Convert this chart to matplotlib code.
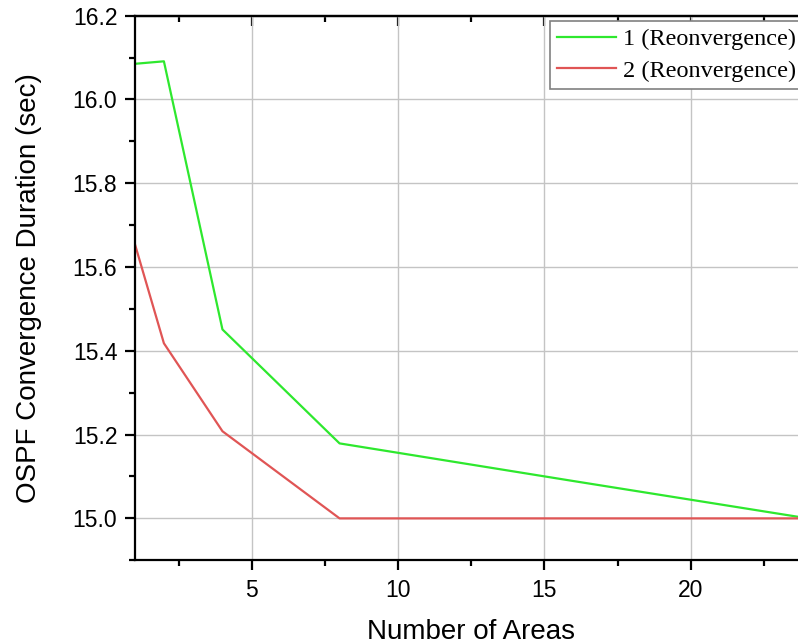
# OSPF convergence duration vs number of areas

import numpy as np
import matplotlib.pyplot as plt
from matplotlib.ticker import MultipleLocator

# data
areas = [1, 2, 4, 8, 16, 24]
reconv_1 = [16.085, 16.091, 15.451, 15.179, 15.089, 15.0]
reconv_2 = [15.657, 15.418, 15.208, 15.0, 15.0, 15.0]
labels = ["1 (Reonvergence)", "2 (Reonvergence)"]

plt.rcParams['font.family'] = ['Liberation Sans', 'DejaVu Sans']

fig = plt.figure(figsize=(7.98, 6.44), dpi=100)
# right spine sits just past the figure edge, as in the cropped original
ax = fig.add_axes([0.1687, 0.13, 0.8438, 0.8457])

ax.plot(areas, reconv_1, color='#2ee82e', lw=1.6, label=labels[0])
ax.plot(areas, reconv_2, color='#e05555', lw=1.6, label=labels[1])

ax.set_xlim(1, 24)
ax.set_ylim(14.9, 16.2)
ax.xaxis.set_major_locator(MultipleLocator(5))
ax.xaxis.set_minor_locator(MultipleLocator(2.5))
ax.yaxis.set_major_locator(MultipleLocator(0.2))
ax.yaxis.set_minor_locator(MultipleLocator(0.1))
ax.yaxis.set_major_formatter(plt.FormatStrFormatter('%.1f'))

ax.grid(True, which='major', color='#c4c4c4', lw=1.0)
ax.set_axisbelow(True)
for s in ax.spines.values():
    s.set_linewidth(1.6)

ax.tick_params(which='both', direction='out', width=1.6, labelsize=16.5, top=False, right=False)
ax.tick_params(which='major', length=7.5)
ax.tick_params(which='minor', length=4.5)
ax.tick_params(axis='x', pad=6)
ax.tick_params(axis='y', pad=5)

# inward ticks along the top spine
top = ax.secondary_xaxis('top')
top.xaxis.set_major_locator(MultipleLocator(5))
top.xaxis.set_minor_locator(MultipleLocator(2.5))
top.tick_params(which='both', direction='in', width=1.6, labeltop=False)
top.tick_params(which='major', length=7.5)
top.tick_params(which='minor', length=4)
top.spines['top'].set_linewidth(1.6)

ax.set_xlabel("Number of Areas", fontsize=20, labelpad=12)
ax.set_ylabel("OSPF Convergence Duration (sec)", fontsize=20, labelpad=22)

leg = ax.legend(loc='upper left', bbox_to_anchor=(550/798, 1 - 21/644),
                bbox_transform=fig.transFigure, borderaxespad=0,
                prop={'family': 'Liberation Serif', 'size': 17.5},
                fancybox=False, edgecolor='#808080', framealpha=1,
                handlelength=2.4, handletextpad=0.3, labelspacing=0.38,
                borderpad=0.3)
leg.get_frame().set_linewidth(1.2)

fig.savefig("out.png", dpi=100)
